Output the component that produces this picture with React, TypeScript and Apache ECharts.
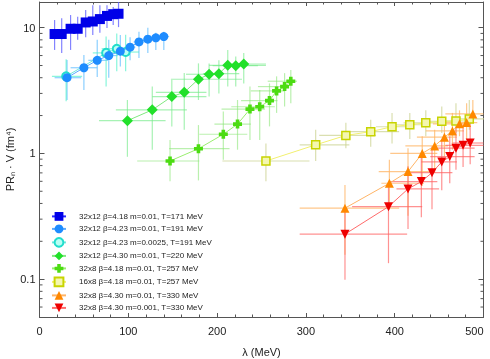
import React, { useEffect, useRef } from "react";
import * as echarts from "echarts";

const FONT = "'Liberation Sans', Arial, sans-serif";

// ---- axis ----
const xTicks = [0, 100, 200, 300, 400, 500];
const yDecades = [0.1, 1, 10];
const yMin = 0.05;
const yMax = 16;

// ---- series names ----
const names = [
  "32x12 β=4.18 m=0.01, T=171 MeV",
  "32x12 β=4.23 m=0.01, T=191 MeV",
  "32x12 β=4.23 m=0.0025, T=191 MeV",
  "32x12 β=4.30 m=0.01, T=220 MeV",
  "32x8 β=4.18 m=0.01, T=257 MeV",
  "16x8 β=4.18 m=0.01, T=257 MeV",
  "32x8 β=4.30 m=0.01, T=330 MeV",
  "32x8 β=4.30 m=0.001, T=330 MeV",
];

// ---- 32x12 b4.18 T171 ----
const aLam = [17, 25, 35, 43, 52, 60, 68, 76, 83, 89];
const aVal = [8.9, 8.9, 9.8, 9.8, 11.0, 11.2, 11.7, 12.4, 12.8, 12.9];
const aXLo = [17, 25, 35, 43, 52, 60, 68, 76, 83, 89];
const aXHi = [17, 25, 35, 43, 52, 60, 68, 76, 83, 89];
const aYLo = [6.65, 6.3, 6.65, 8.0, 8.4, 8.75, 9.1, 9.95, 10.5, 10.1];
const aYHi = [11.5, 11.9, 12.6, 12.2, 13.8, 15.1, 15.1, 15.1, 14.6, 16];

// ---- 32x12 b4.23 m0.01 T191 ----
const bLam = [31, 50, 65, 78, 91, 102, 112, 122, 131, 140];
const bVal = [4.0, 4.8, 5.5, 6.0, 6.5, 7.0, 7.7, 8.1, 8.3, 8.5];
const bXLo = [17, 35, 55, 70, 84, 96, 106, 116, 126, 134];
const bXHi = [47, 65, 77, 88, 99, 108, 118, 128, 137, 146];
const bYLo = [2.66, 3.2, 4.05, 4.0, 4.9, 5.5, 5.75, 6.3, 6.65, 6.65];
const bYHi = [5.53, 6.07, 8.0, 8.0, 8.75, 8.4, 9.3, 10.0, 9.1, 9.3];

// ---- 32x12 b4.23 m0.0025 T191 ----
const cLam = [30, 75, 87, 97];
const cVal = [4.1, 6.3, 6.8, 6.4];
const cXLo = [14, 60, 70, 82];
const cXHi = [48, 90, 105, 112];
const cYLo = [2.6, 3.4, 4.5, 4.5];
const cYHi = [5.6, 8.5, 9.0, 8.8];

// ---- 32x12 b4.30 T220 ----
const dLam = [99, 127, 149, 163, 179, 191, 202, 212, 221, 230];
const dVal = [1.82, 2.22, 2.83, 3.06, 3.89, 4.26, 4.31, 5.02, 4.99, 5.14];
const dXLo = [67, 86, 127, 131, 148, 165, 184, 191, 195, 210];
const dXHi = [142, 166, 188, 188, 228, 199, 225, 255, 246, 255];
const dYLo = [0.94, 1.07, 1.64, 1.54, 2.66, 2.83, 3.0, 3.4, 3.4, 3.6];
const dYHi = [2.66, 3.4, 3.83, 4.35, 5.2, 5.2, 5.5, 6.65, 5.9, 6.3];

// ---- 32x8 b4.18 T257 ----
const eLam = [147, 179, 207, 223, 237, 248, 259, 267, 276, 283];
const eVal = [0.87, 1.09, 1.42, 1.71, 2.25, 2.35, 2.63, 3.14, 3.4, 3.75];
const eXLo = [110, 146, 180, 197, 205, 216, 227, 238, 246, 257];
const eXHi = [180, 214, 234, 238, 254, 265, 268, 276, 280, 290];
const eYLo = [0.6, 0.61, 0.89, 1.07, 1.28, 1.28, 1.64, 2.1, 2.36, 2.5];
const eYHi = [1.28, 1.68, 2.15, 2.66, 3.4, 3.2, 3.6, 4.1, 4.35, 4.6];

// ---- 16x8 b4.18 T257 ----
const fLam = [255, 311, 345, 373, 397, 417, 435, 453, 469, 484];
const fVal = [0.87, 1.17, 1.39, 1.49, 1.63, 1.69, 1.75, 1.8, 1.81, 1.88];
const fXLo = [206, 293, 315, 350, 379, 394, 410, 434, 448, 467];
const fXHi = [304, 349, 379, 405, 417, 434, 450, 469, 484, 504];
const fYLo = [0.6, 0.87, 1.1, 1.13, 1.2, 1.3, 1.37, 1.45, 1.45, 1.54];
const fYHi = [1.2, 1.54, 1.75, 1.85, 2.1, 2.1, 2.2, 2.36, 2.5, 2.66];

// ---- 32x8 b4.30 m0.01 T330 ----
const gLam = [344, 394, 415, 431, 445, 456, 465, 473, 481, 488];
const gVal = [0.367, 0.579, 0.717, 1.0, 1.147, 1.346, 1.51, 1.72, 1.76, 2.06];
const gXLo = [293, 385, 382, 395, 412, 425, 435, 443, 450, 457];
const gXHi = [405, 433, 440, 448, 460, 470, 478, 485, 493, 500];
const gYLo = [0.156, 0.357, 0.32, 0.55, 0.7, 0.94, 1.07, 1.37, 1.3, 1.75];
const gYHi = [0.56, 0.89, 1.1, 1.37, 1.54, 1.85, 2.1, 2.2, 2.5, 2.66];

// ---- 32x8 b4.30 m0.001 T330 ----
const hLam = [344, 393, 415, 430, 442, 453, 462, 469, 477, 485];
const hVal = [0.228, 0.377, 0.522, 0.597, 0.703, 0.856, 0.943, 1.1, 1.16, 1.21];
const hXLo = [293, 352, 402, 395, 418, 430, 440, 448, 457, 465];
const hXHi = [414, 431, 450, 448, 465, 470, 490, 490, 500, 500];
const hYLo = [0.099, 0.134, 0.25, 0.31, 0.36, 0.51, 0.58, 0.74, 0.78, 0.82];
const hYHi = [0.37, 0.58, 0.79, 0.94, 1.14, 1.28, 1.37, 1.64, 1.7, 1.75];

const CROSS = "path://M3,0H7V3H10V7H7V10H3V7H0V3H3Z";

type Set = {
  lam: number[]; val: number[]; xlo: number[]; xhi: number[]; ylo: number[]; yhi: number[];
  symbol: string; size: number; rotate?: number; z: number;
  fill: string; border?: string; bw?: number; err: string; line: string;
};

const sets: Set[] = [
  { lam: aLam, val: aVal, xlo: aXLo, xhi: aXHi, ylo: aYLo, yhi: aYHi, symbol: "rect", size: 10, z: 3, fill: "#0000e8", err: "rgba(90,90,255,0.75)", line: "#2a2aff" },
  { lam: bLam, val: bVal, xlo: bXLo, xhi: bXHi, ylo: bYLo, yhi: bYHi, symbol: "circle", size: 9, z: 3, fill: "#1e8cff", err: "rgba(110,195,255,0.8)", line: "#5aaaff" },
  { lam: cLam, val: cVal, xlo: cXLo, xhi: cXHi, ylo: cYLo, yhi: cYHi, symbol: "circle", size: 8, z: 2, fill: "#b8fff4", border: "#22ddcc", bw: 2, err: "rgba(70,240,200,0.65)", line: "#70e8dc" },
  { lam: dLam, val: dVal, xlo: dXLo, xhi: dXHi, ylo: dYLo, yhi: dYHi, symbol: "diamond", size: 11, z: 3, fill: "#22e02a", err: "rgba(120,235,140,0.65)", line: "#80e880" },
  { lam: eLam, val: eVal, xlo: eXLo, xhi: eXHi, ylo: eYLo, yhi: eYHi, symbol: CROSS, size: 9, z: 3, fill: "#4cdc12", err: "rgba(140,230,120,0.6)", line: "#9aee70" },
  { lam: fLam, val: fVal, xlo: fXLo, xhi: fXHi, ylo: fYLo, yhi: fYHi, symbol: "rect", size: 8, z: 3, fill: "#f4f7b0", border: "#c8d400", bw: 1.5, err: "rgba(205,212,150,0.75)", line: "#f2f070" },
  { lam: gLam, val: gVal, xlo: gXLo, xhi: gXHi, ylo: gYLo, yhi: gYHi, symbol: "triangle", size: 9, z: 3, fill: "#ff8800", err: "rgba(255,180,100,0.75)", line: "#ffb466" },
  { lam: hLam, val: hVal, xlo: hXLo, xhi: hXHi, ylo: hYLo, yhi: hYHi, symbol: "triangle", size: 9, z: 3, rotate: 180, fill: "#ee0000", err: "rgba(255,100,100,0.7)", line: "#ff6a6a" },
];

// minor tick positions on the log axis (axis decoration only)
const minorVals: number[] = [];
for (const d of [0.01, 0.1, 1]) for (let k = 2; k <= 9; k++) {
  const v = +(d * k).toPrecision(3);
  if (v > yMin && v < yMax) minorVals.push(v);
}
const AXIS = "#555";

export default function App() {
  const ref = useRef<HTMLDivElement>(null);
  useEffect(() => {
    if (!ref.current) return;
    const chart = echarts.init(ref.current, undefined, { renderer: "svg" });
    const series: any[] = [];
    sets.forEach((s, i) => {
      series.push({
        type: "custom",
        name: names[i] + " err",
        clip: true,
        silent: true,
        z: 1,
        encode: { x: 0, y: 1 },
        data: s.lam.map((x, j) => [x, s.val[j], s.xlo[j], s.xhi[j], s.ylo[j], s.yhi[j]]),
        renderItem: (params: any, api: any) => {
          const x = api.value(0), y = api.value(1);
          const a = api.coord([api.value(2), y]);
          const b = api.coord([api.value(3), y]);
          const c = api.coord([x, api.value(4)]);
          const d = api.coord([x, api.value(5)]);
          const st = { stroke: s.err, lineWidth: 1.2 };
          return {
            type: "group",
            children: [
              { type: "line", shape: { x1: a[0], y1: a[1], x2: b[0], y2: b[1] }, style: st },
              { type: "line", shape: { x1: c[0], y1: c[1], x2: d[0], y2: d[1] }, style: st },
            ],
          };
        },
      });
    });
    sets.forEach((s, i) => {
      series.push({
        type: "line",
        name: names[i],
        z: s.z,
        symbol: s.symbol,
        symbolSize: s.size,
        symbolRotate: s.rotate || 0,
        showSymbol: true,
        lineStyle: { color: s.line, width: 1 },
        itemStyle: { color: s.fill, borderColor: s.border || s.fill, borderWidth: s.bw || 0 },
        data: s.lam.map((x, j) => [x, s.val[j]]),
      });
    });
    series.push({
      type: "custom",
      name: "minor",
      silent: true,
      clip: false,
      z: 5,
      encode: { x: 0, y: 1 },
      data: minorVals.map((v) => [0, v]),
      renderItem: (params: any, api: any) => {
        const cs = params.coordSys;
        const p = api.coord([0, api.value(1)]);
        const st = { stroke: AXIS, lineWidth: 1 };
        return {
          type: "group",
          children: [
            { type: "line", shape: { x1: cs.x, y1: p[1], x2: cs.x + 3, y2: p[1] }, style: st },
            { type: "line", shape: { x1: cs.x + cs.width - 3, y1: p[1], x2: cs.x + cs.width, y2: p[1] }, style: st },
          ],
        };
      },
    });

    const xCommon = {
      type: "value",
      min: xTicks[0],
      max: xTicks[xTicks.length - 1],
      interval: 100,
      axisLine: { show: true, onZero: false, lineStyle: { color: AXIS, width: 1 } },
      axisTick: { show: true, inside: true, length: 4, lineStyle: { color: AXIS } },
      minorTick: { show: true, splitNumber: 5, length: 2.5, lineStyle: { color: AXIS } },
      splitLine: { show: false },
    };
    const yCommon = {
      type: "log",
      logBase: 10,
      min: yMin,
      max: yMax,
      axisLine: { show: true, onZero: false, lineStyle: { color: AXIS, width: 1 } },
      axisTick: { show: true, inside: true, length: 5, lineStyle: { color: AXIS } },
      splitLine: { show: false },
    };

    chart.setOption({
      animation: false,
      textStyle: { fontFamily: FONT },
      grid: { left: 39.5, top: 2, right: 6.5, bottom: 42, containLabel: false, outerBoundsMode: "none" },
      xAxis: [
        {
          ...xCommon,
          position: "bottom",
          name: "λ (MeV)",
          nameLocation: "middle",
          nameGap: 29,
          nameMoveOverlap: false,
          nameTextStyle: { fontSize: 11, color: "#222", fontFamily: FONT },
          axisLabel: { fontSize: 11, color: "#222", margin: 8, fontFamily: FONT, alignMaxLabel: "right" },
        },
        { ...xCommon, position: "top", axisLabel: { show: false } },
      ],
      yAxis: [
        {
          ...yCommon,
          position: "left",
          name: "PRₙ · V (fm⁴)",
          nameLocation: "middle",
          nameGap: 24,
          nameMoveOverlap: false,
          nameTextStyle: { fontSize: 11, color: "#222", fontFamily: FONT },
          axisLabel: {
            fontSize: 11,
            color: "#222",
            margin: 4,
            fontFamily: FONT,
            formatter: (v: number) => {
              const l = Math.log10(v);
              const r = Math.round(l);
              if (Math.abs(l - r) > 1e-6) return "";
              const hit = yDecades.find((d) => Math.abs(Math.log10(d) - r) < 1e-6);
              return hit !== undefined ? String(hit) : "";
            },
          },
        },
        { ...yCommon, position: "right", axisLabel: { show: false } },
      ],
      legend: {
        orient: "vertical",
        left: 46,
        top: 207,
        itemWidth: 14,
        itemHeight: 11,
        itemGap: 3.7,
        data: names,
        textStyle: { fontSize: 8, color: "#222", fontFamily: FONT, padding: [0, 0, 0, 8] },
      },
      series,
    });
    return () => chart.dispose();
  }, []);
  return <div ref={ref} style={{ position: "fixed", left: 0, top: 0, width: 490, height: 359 }} />;
}
